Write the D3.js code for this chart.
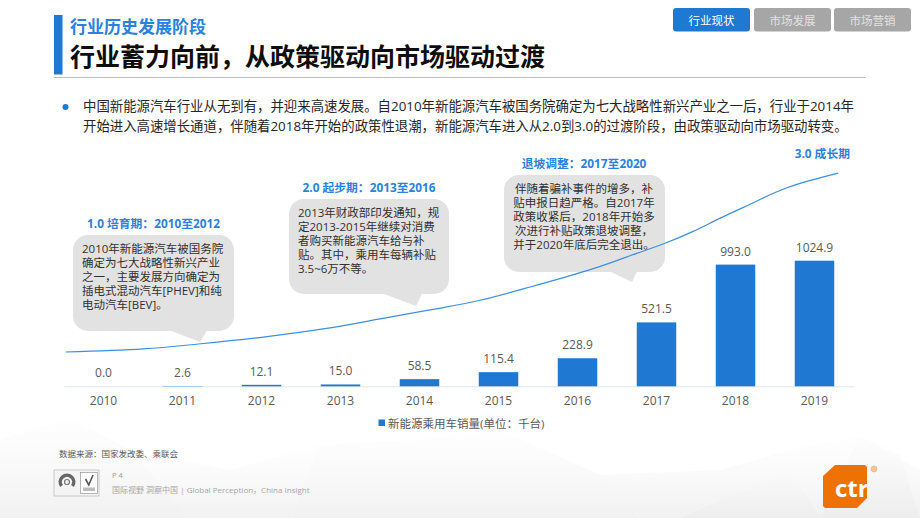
<!DOCTYPE html>
<html>
<head>
<meta charset="utf-8">
<script src="https://cdn.jsdelivr.net/npm/d3@7"></script>
<style>
  html, body { margin: 0; padding: 0; background: #fff; }
  text { font-family: "Open Sans", "Noto Sans CJK SC", sans-serif; }
</style>
</head>
<body>
<div id="d3-container"></div>
<script>
// chart data
const years = ["2010", "2011", "2012", "2013", "2014", "2015", "2016", "2017", "2018", "2019"];
const sales = [0.0, 2.6, 12.1, 15.0, 58.5, 115.4, 228.9, 521.5, 993.0, 1024.9];
const salesLabels = ["0.0", "2.6", "12.1", "15.0", "58.5", "115.4", "228.9", "521.5", "993.0", "1024.9"];
const legendLabel = "新能源乘用车销量(单位：千台)";

// growth curve (position in years, height on the sales scale)
const trendYears = [2009.52, 2010.5, 2011.2, 2012, 2012.8, 2013.5, 2014.15, 2014.75, 2015.4, 2016.2, 2016.75, 2017.1, 2017.45, 2017.8, 2018.1, 2018.65, 2019.3];
const trendValues = [280, 305, 345, 400, 470, 550, 625, 700, 810, 960, 1085, 1165, 1260, 1370, 1460, 1620, 1740];

const subTitle = "行业历史发展阶段";
const mainTitle = "行业蓄力向前，从政策驱动向市场驱动过渡";
const tabs = ["行业现状", "市场发展", "市场营销"];
const bodyLines = [
  "中国新能源汽车行业从无到有，并迎来高速发展。自2010年新能源汽车被国务院确定为七大战略性新兴产业之一后，行业于2014年",
  "开始进入高速增长通道，伴随着2018年开始的政策性退潮，新能源汽车进入从2.0到3.0的过渡阶段，由政策驱动向市场驱动转变。"
];

const width = 920, height = 518;
const blue = "#1f78d1", headBlue = "#2b82dc", grey = "#595959";

const svg = d3.select("#d3-container")
  .append("svg")
  .attr("width", width)
  .attr("height", height)
  .style("display", "block");

// faint low-poly backdrop along the bottom
const defs = svg.append("defs");
const fade = defs.append("linearGradient").attr("id", "fade").attr("x1", 0).attr("y1", 0).attr("x2", 0).attr("y2", 1);
fade.append("stop").attr("offset", "0%").attr("stop-color", "#f8f8f8").attr("stop-opacity", 0.15);
fade.append("stop").attr("offset", "100%").attr("stop-color", "#ececec").attr("stop-opacity", 0.75);
const polys = [
  "0,440 70,418 130,450 190,518 0,518",
  "130,450 230,470 320,445 290,518 190,518",
  "320,445 420,440 500,430 600,475 640,518 290,518",
  "600,475 720,470 790,450 860,436 920,470 920,518 640,518",
  "680,518 790,470 820,518",
  "860,436 900,455 920,518 820,518"
];
svg.selectAll("polygon.bg")
  .data(polys)
  .join("polygon")
    .attr("class", "bg")
    .attr("points", d => d)
    .attr("fill", "url(#fade)");

// header
svg.append("rect").attr("x", 54).attr("y", 15).attr("width", 8.5).attr("height", 59.5).attr("fill", blue);
svg.append("line").attr("x1", 54).attr("x2", 865.5).attr("y1", 77.5).attr("y2", 77.5).attr("stroke", "#bdbdbd");
svg.append("text").attr("x", 70).attr("y", 33).attr("font-size", 17).attr("font-weight", 700).attr("fill", headBlue).text(subTitle);
svg.append("text").attr("x", 70).attr("y", 66).attr("font-size", 25).attr("font-weight", 700).attr("fill", "#0d0d0d").text(mainTitle);

tabs.forEach((t, i) => {
  const x0 = [673, 754, 834][i];
  svg.append("rect").attr("x", x0).attr("y", 8).attr("width", 77).attr("height", 23.5).attr("rx", 3)
    .attr("fill", i === 0 ? blue : "#a6a6a6");
  svg.append("text").attr("x", x0 + 38.5).attr("y", 24.5).attr("text-anchor", "middle").attr("font-size", 11.5)
    .attr("fill", i === 0 ? "#fff" : "#e3e3e3").text(t);
});

// intro text
svg.append("circle").attr("cx", 65.5).attr("cy", 107).attr("r", 3).attr("fill", blue);
bodyLines.forEach((l, i) => {
  svg.append("text").attr("x", 83).attr("y", 111 + i * 20).attr("font-size", 13.4).attr("fill", "#262626").text(l);
});

// scales
const x = d3.scaleBand().domain(years).range([64, 854]).paddingInner(0.5).paddingOuter(0.25);
const y = d3.scaleLinear().domain([0, 1024.9]).range([386.3, 260.7]);
const xTrend = d3.scaleLinear().domain([2010, 2019]).range([x("2010") + x.bandwidth() / 2, x("2019") + x.bandwidth() / 2]);

// axis
const xAxis = svg.append("g")
  .attr("transform", "translate(0,386.3)")
  .call(d3.axisBottom(x).tickSize(0).tickPadding(10));
xAxis.select(".domain").attr("stroke", "#dfe3e8");
xAxis.selectAll("text").attr("font-size", 12).attr("fill", grey)
  .style("font-family", '"Open Sans", "Noto Sans CJK SC", sans-serif');

// bars
svg.selectAll("rect.bar")
  .data(sales)
  .join("rect")
    .attr("class", "bar")
    .attr("x", (d, i) => x(years[i]))
    .attr("y", d => y(d))
    .attr("width", x.bandwidth())
    .attr("height", d => y(0) - y(d))
    .attr("fill", blue);

svg.selectAll("text.val")
  .data(sales)
  .join("text")
    .attr("class", "val")
    .attr("x", (d, i) => x(years[i]) + x.bandwidth() / 2)
    .attr("y", d => y(d) - 9)
    .attr("text-anchor", "middle")
    .attr("font-size", 12)
    .attr("fill", grey)
    .text((d, i) => salesLabels[i]);

// legend
svg.append("rect").attr("x", 378.5).attr("y", 419.5).attr("width", 6.5).attr("height", 6.5).attr("fill", blue);
svg.append("text").attr("x", 388).attr("y", 427.5).attr("font-size", 11.5).attr("fill", grey).text(legendLabel);

// callouts
const callouts = [
  { head: "1.0 培育期：2010至2012", hx: 153.5, hy: 227.5, box: [73, 235, 161, 96], tail: [170, 200, 342, 207],
    tx: 82, ty: 253, anchor: "start",
    lines: ["2010年新能源汽车被国务院", "确定为七大战略性新兴产业", "之一，主要发展方向确定为", "插电式混动汽车[PHEV]和纯", "电动汽车[BEV]。"] },
  { head: "2.0 起步期：2013至2016", hx: 369, hy: 191.5, box: [289, 199, 160, 95], tail: [383, 416, 306, 422],
    tx: 298, ty: 216.5, anchor: "start",
    lines: ["2013年财政部印发通知，规", "定2013-2015年继续对消费", "者购买新能源汽车给与补", "贴。其中，乘用车每辆补贴", "3.5~6万不等。"] },
  { head: "退坡调整：2017至2020", hx: 584, hy: 168, box: [504, 175, 161, 97], tail: [610, 632, 282, 637],
    tx: 584, ty: 193, anchor: "middle",
    lines: ["伴随着骗补事件的增多，补", "贴申报日趋严格。自2017年", "政策收紧后，2018年开始多", "次进行补贴政策退坡调整，", "并于2020年底后完全退出。"] }
];
callouts.forEach(c => {
  const [bx, by, bw, bh] = c.box;
  const [t0, tipX, tipY, t1] = c.tail;
  svg.append("rect").attr("x", bx).attr("y", by).attr("width", bw).attr("height", bh).attr("rx", 15).attr("fill", "#e2e2e2");
  svg.append("polygon").attr("points", `${t0},${by + bh - 0.5} ${tipX},${tipY} ${t1},${by + bh - 0.5}`).attr("fill", "#e2e2e2");
  svg.append("text").attr("x", c.hx).attr("y", c.hy).attr("text-anchor", "middle").attr("font-size", 11.8)
    .attr("font-weight", 700).attr("fill", headBlue).text(c.head);
  c.lines.forEach((l, i) => {
    svg.append("text").attr("x", c.tx).attr("y", c.ty + i * 14).attr("text-anchor", c.anchor)
      .attr("font-size", 11.5).attr("fill", "#303030").text(l);
  });
});
svg.append("text").attr("x", 850).attr("y", 158).attr("text-anchor", "end").attr("font-size", 11.8)
  .attr("font-weight", 700).attr("fill", headBlue).text("3.0 成长期");

// growth curve
const line = d3.line().x((d, i) => xTrend(trendYears[i])).y(d => y(d)).curve(d3.curveCatmullRom);
svg.append("path")
  .attr("d", line(trendValues))
  .attr("fill", "none")
  .attr("stroke", "#3d8fe0")
  .attr("stroke-width", 1.2);

// footer
svg.append("text").attr("x", 59).attr("y", 457).attr("font-size", 8.5).attr("fill", "#595959").text("数据来源：国家发改委、乘联会");
svg.append("text").attr("x", 112).attr("y", 478).attr("font-size", 7.5).attr("fill", "#999").text("P 4");
svg.append("text").attr("x", 112).attr("y", 493).attr("font-size", 8).attr("fill", "#a6a6a6").text("国际视野  洞察中国 |  Global Perception，China Insight");

// certificate marks
svg.append("rect").attr("x", 54).attr("y", 470).attr("width", 45).attr("height", 26).attr("fill", "#f4f4f4").attr("stroke", "#b5b5b5").attr("stroke-width", 0.7);
svg.append("path").attr("d", d3.arc()({ innerRadius: 5, outerRadius: 8.5, startAngle: -2.2, endAngle: 2.2 })).attr("transform", "translate(67,482)").attr("fill", "#666");
svg.append("circle").attr("cx", 67).attr("cy", 482).attr("r", 2.5).attr("fill", "none").attr("stroke", "#777").attr("stroke-width", 1.2);
svg.append("rect").attr("x", 80.5).attr("y", 472.5).attr("width", 17).attr("height", 21).attr("fill", "#fff").attr("stroke", "#888").attr("stroke-width", 0.6);
svg.append("path").attr("d", "M85.5,479 L88.8,485 L93,475").attr("fill", "none").attr("stroke", "#555").attr("stroke-width", 1.6);
svg.append("rect").attr("x", 83).attr("y", 487.5).attr("width", 12).attr("height", 3.5).attr("fill", "#bbb");

// logo
const logoClip = defs.append("clipPath").attr("id", "logoClip");
logoClip.append("polygon").attr("points", "835,465 865,465 867,467 867,498 857,508 825,508 823,506 823,476");
svg.append("polygon").attr("points", "835,465 865,465 867,467 867,498 857,508 825,508 823,506 823,476").attr("fill", "#ee7203");
svg.append("text").attr("x", 835).attr("y", 497).attr("font-size", 24).attr("font-weight", 700).attr("fill", "#fff")
  .attr("clip-path", "url(#logoClip)").text("ctr");
svg.append("circle").attr("cx", 874).attr("cy", 469).attr("r", 3).attr("fill", "#f6c49a").attr("stroke", "#f2a765").attr("stroke-width", 0.6);
</script>
</body>
</html>
